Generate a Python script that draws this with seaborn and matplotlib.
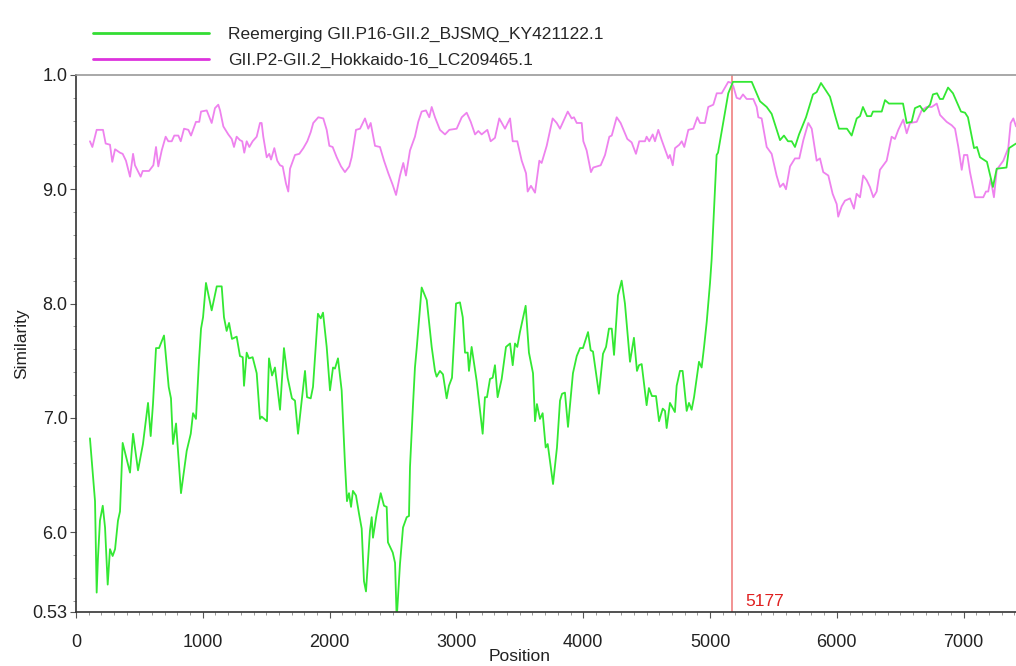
import numpy as np
import pandas as pd
import matplotlib
matplotlib.use("Agg")
import matplotlib.pyplot as plt
from matplotlib.lines import Line2D
from matplotlib.ticker import MultipleLocator
import seaborn as sns

# ---------------- data ----------------
series_names = ["Reemerging GII.P16-GII.2_BJSMQ_KY421122.1",
                "GII.P2-GII.2_Hokkaido-16_LC209465.1"]

green_pos = [110, 150, 163, 173, 189, 211, 229, 250, 268, 289, 308, 331, 347, 368, 426, 450, 489, 528, 552, 568,
             589, 607, 631, 655, 694, 731, 749, 765, 789, 828, 873, 905, 923, 946, 970, 986, 1002, 1025, 1070, 1110,
             1149, 1167, 1188, 1207, 1230, 1267, 1293, 1315, 1325, 1346, 1364, 1393, 1425, 1451, 1464, 1506, 1522,
             1546, 1569, 1609, 1640, 1669, 1703, 1727, 1751, 1806, 1822, 1851, 1869, 1908, 1930, 1948, 1977, 2003,
             2027, 2042, 2066, 2095, 2121, 2137, 2153, 2169, 2184, 2208, 2232, 2253, 2271, 2287, 2318, 2332, 2342,
             2371, 2403, 2429, 2450, 2460, 2498, 2516, 2529, 2555, 2579, 2608, 2626, 2634, 2658, 2673, 2687, 2726,
             2766, 2805, 2831, 2844, 2870, 2894, 2923, 2941, 2965, 2997, 3028, 3050, 3068, 3089, 3099, 3120, 3160,
             3207, 3225, 3241, 3265, 3286, 3304, 3325, 3357, 3391, 3423, 3444, 3462, 3480, 3501, 3546, 3572, 3604,
             3620, 3635, 3659, 3680, 3704, 3720, 3762, 3793, 3817, 3833, 3856, 3880, 3919, 3949, 3975, 3998, 4038,
             4059, 4077, 4124, 4156, 4180, 4203, 4225, 4243, 4274, 4303, 4329, 4369, 4400, 4424, 4440, 4461, 4500,
             4518, 4542, 4574, 4598, 4627, 4645, 4658, 4684, 4723, 4737, 4763, 4784, 4816, 4834, 4855, 4874, 4913,
             4934, 4953, 4974, 5000, 5013, 5052, 5063, 5144, 5181, 5329, 5394, 5447, 5486, 5552, 5583, 5615, 5644,
             5670, 5702, 5757, 5812, 5841, 5875, 5899, 5946, 5993, 6017, 6080, 6117, 6157, 6183, 6206, 6238, 6270,
             6285, 6354, 6380, 6411, 6522, 6551, 6590, 6616, 6656, 6687, 6735, 6758, 6790, 6813, 6837, 6877, 6916,
             6979, 7011, 7034, 7082, 7105, 7129, 7184, 7231, 7261, 7338, 7358, 7413]
green_sim = [0.682, 0.627, 0.547, 0.577, 0.610, 0.623, 0.604, 0.554, 0.585, 0.579, 0.585, 0.610, 0.618, 0.678,
             0.652, 0.686, 0.654, 0.677, 0.699, 0.713, 0.684, 0.712, 0.761, 0.761, 0.772, 0.727, 0.717, 0.677,
             0.695, 0.634, 0.671, 0.686, 0.704, 0.699, 0.750, 0.778, 0.788, 0.818, 0.794, 0.815, 0.815, 0.788,
             0.776, 0.783, 0.769, 0.771, 0.754, 0.753, 0.728, 0.757, 0.752, 0.753, 0.739, 0.699, 0.701, 0.697,
             0.752, 0.737, 0.744, 0.707, 0.761, 0.735, 0.717, 0.715, 0.686, 0.741, 0.718, 0.717, 0.727, 0.791,
             0.787, 0.792, 0.762, 0.724, 0.744, 0.743, 0.752, 0.724, 0.660, 0.627, 0.634, 0.622, 0.636, 0.632,
             0.616, 0.603, 0.557, 0.548, 0.601, 0.613, 0.595, 0.616, 0.634, 0.623, 0.622, 0.591, 0.582, 0.573,
             0.524, 0.572, 0.604, 0.613, 0.614, 0.657, 0.712, 0.744, 0.761, 0.814, 0.803, 0.762, 0.741, 0.736,
             0.741, 0.738, 0.717, 0.728, 0.735, 0.800, 0.801, 0.788, 0.757, 0.757, 0.741, 0.762, 0.732, 0.686,
             0.718, 0.718, 0.734, 0.735, 0.746, 0.718, 0.734, 0.762, 0.765, 0.746, 0.765, 0.762, 0.775, 0.798,
             0.757, 0.739, 0.697, 0.712, 0.699, 0.704, 0.674, 0.677, 0.642, 0.674, 0.715, 0.721, 0.722, 0.692,
             0.739, 0.754, 0.761, 0.761, 0.775, 0.759, 0.758, 0.721, 0.756, 0.762, 0.778, 0.778, 0.755, 0.807,
             0.820, 0.800, 0.749, 0.770, 0.741, 0.746, 0.747, 0.711, 0.726, 0.719, 0.719, 0.697, 0.708, 0.706,
             0.691, 0.713, 0.705, 0.728, 0.741, 0.741, 0.706, 0.713, 0.707, 0.718, 0.749, 0.744, 0.762, 0.784,
             0.818, 0.839, 0.930, 0.932, 0.984, 0.994, 0.994, 0.977, 0.972, 0.966, 0.943, 0.947, 0.942, 0.942,
             0.937, 0.948, 0.963, 0.983, 0.985, 0.993, 0.989, 0.981, 0.962, 0.953, 0.953, 0.947, 0.962, 0.964,
             0.972, 0.964, 0.964, 0.968, 0.968, 0.978, 0.975, 0.975, 0.958, 0.959, 0.971, 0.973, 0.968, 0.974,
             0.983, 0.984, 0.979, 0.979, 0.989, 0.984, 0.968, 0.967, 0.963, 0.936, 0.937, 0.928, 0.924, 0.902,
             0.918, 0.919, 0.936, 0.940]

violet_pos = [110, 129, 163, 213, 234, 268, 286, 308, 347, 368, 394, 426, 450, 465, 510, 526, 576, 610, 631, 649,
              676, 707, 728, 755, 775, 807, 826, 852, 886, 907, 946, 972, 986, 1031, 1070, 1096, 1122, 1136, 1162,
              1201, 1228, 1246, 1267, 1293, 1311, 1327, 1346, 1367, 1393, 1425, 1451, 1464, 1477, 1504, 1524, 1538,
              1564, 1587, 1609, 1630, 1656, 1674, 1688, 1727, 1761, 1793, 1824, 1851, 1871, 1911, 1950, 1977, 1998,
              2024, 2056, 2090, 2121, 2155, 2174, 2208, 2240, 2279, 2305, 2324, 2358, 2397, 2429, 2463, 2497, 2524,
              2555, 2581, 2602, 2634, 2673, 2699, 2726, 2760, 2786, 2805, 2831, 2870, 2910, 2944, 3002, 3042, 3081,
              3113, 3147, 3173, 3199, 3244, 3270, 3304, 3338, 3383, 3423, 3444, 3480, 3515, 3549, 3562, 3588, 3620,
              3654, 3672, 3712, 3759, 3791, 3817, 3878, 3909, 3927, 3949, 3988, 4001, 4027, 4061, 4079, 4138, 4172,
              4206, 4225, 4264, 4295, 4348, 4382, 4416, 4442, 4487, 4500, 4521, 4548, 4566, 4592, 4619, 4645, 4671,
              4684, 4706, 4724, 4758, 4777, 4797, 4829, 4868, 4900, 4921, 4960, 4986, 5026, 5053, 5092, 5144, 5171,
              5184, 5210, 5236, 5260, 5289, 5341, 5368, 5381, 5407, 5447, 5486, 5525, 5552, 5578, 5599, 5631, 5670,
              5704, 5736, 5775, 5802, 5841, 5867, 5893, 5933, 5967, 5999, 6011, 6038, 6064, 6104, 6135, 6156, 6183,
              6208, 6235, 6261, 6288, 6314, 6340, 6393, 6432, 6458, 6485, 6524, 6551, 6577, 6630, 6669, 6708, 6748,
              6788, 6814, 6866, 6906, 6932, 6958, 6985, 7003, 7029, 7050, 7090, 7155, 7176, 7194, 7213, 7239, 7261,
              7313, 7352, 7371, 7392, 7413]
violet_sim = [0.942, 0.937, 0.952, 0.952, 0.940, 0.939, 0.924, 0.935, 0.932, 0.931, 0.925, 0.911, 0.931, 0.921,
              0.911, 0.916, 0.916, 0.921, 0.937, 0.920, 0.934, 0.946, 0.942, 0.942, 0.947, 0.947, 0.942, 0.953,
              0.952, 0.947, 0.959, 0.959, 0.968, 0.969, 0.958, 0.971, 0.974, 0.969, 0.955, 0.948, 0.944, 0.937,
              0.946, 0.943, 0.942, 0.932, 0.942, 0.937, 0.942, 0.946, 0.958, 0.958, 0.946, 0.928, 0.931, 0.926,
              0.936, 0.925, 0.921, 0.920, 0.905, 0.898, 0.918, 0.930, 0.931, 0.936, 0.942, 0.950, 0.958, 0.963,
              0.962, 0.952, 0.938, 0.937, 0.928, 0.920, 0.915, 0.920, 0.928, 0.952, 0.953, 0.962, 0.953, 0.958,
              0.938, 0.937, 0.925, 0.914, 0.904, 0.895, 0.912, 0.923, 0.912, 0.934, 0.946, 0.959, 0.968, 0.969,
              0.963, 0.972, 0.963, 0.952, 0.948, 0.952, 0.953, 0.963, 0.967, 0.959, 0.948, 0.951, 0.948, 0.952,
              0.942, 0.945, 0.962, 0.953, 0.962, 0.942, 0.942, 0.925, 0.914, 0.898, 0.903, 0.897, 0.925, 0.923,
              0.938, 0.962, 0.958, 0.953, 0.968, 0.962, 0.963, 0.958, 0.958, 0.942, 0.934, 0.915, 0.919, 0.921,
              0.930, 0.946, 0.947, 0.963, 0.958, 0.944, 0.941, 0.931, 0.942, 0.942, 0.946, 0.942, 0.948, 0.942,
              0.952, 0.943, 0.935, 0.927, 0.930, 0.921, 0.936, 0.939, 0.942, 0.937, 0.952, 0.953, 0.963, 0.958,
              0.958, 0.972, 0.974, 0.984, 0.984, 0.994, 0.993, 0.990, 0.980, 0.979, 0.983, 0.979, 0.979, 0.972,
              0.963, 0.962, 0.937, 0.931, 0.912, 0.902, 0.905, 0.900, 0.920, 0.927, 0.927, 0.943, 0.958, 0.953,
              0.925, 0.927, 0.915, 0.912, 0.896, 0.887, 0.876, 0.885, 0.890, 0.892, 0.883, 0.896, 0.893, 0.912,
              0.908, 0.902, 0.893, 0.898, 0.917, 0.925, 0.946, 0.944, 0.952, 0.961, 0.949, 0.958, 0.959, 0.969,
              0.972, 0.972, 0.975, 0.965, 0.959, 0.956, 0.953, 0.937, 0.917, 0.930, 0.930, 0.915, 0.893, 0.893,
              0.898, 0.898, 0.909, 0.893, 0.917, 0.925, 0.936, 0.958, 0.962, 0.955]

breakpoint_pos = 5177
y_tick_values = [0.53, 0.6, 0.7, 0.8, 0.9, 1.0]
y_tick_labels = ["0.53", "6.0", "7.0", "8.0", "9.0", "1.0"]
x_tick_values = [0, 1000, 2000, 3000, 4000, 5000, 6000, 7000]

# ---------------- styling ----------------
sns.set_theme(style="white")
plt.rcParams["font.family"] = ["Liberation Sans", "DejaVu Sans"]

line_colors = {series_names[0]: "#33e833", series_names[1]: "#ee82ee"}
legend_colors = ["#33dd33", "#dd33dd"]

df = pd.concat([
    pd.DataFrame({"Position": green_pos, "Similarity": green_sim, "Series": series_names[0]}),
    pd.DataFrame({"Position": violet_pos, "Similarity": violet_sim, "Series": series_names[1]}),
], ignore_index=True)

fig = plt.figure(figsize=(10.16, 6.66), dpi=100)
ax = fig.add_axes([76 / 1016, 1 - 612 / 666, 1 - 76 / 1016, (612 - 75) / 666])

# draw violet first so green is on top
sns.lineplot(data=df, x="Position", y="Similarity", hue="Series",
             hue_order=[series_names[1], series_names[0]],
             palette=line_colors, estimator=None, sort=False, legend=False,
             linewidth=1.3, ax=ax)

ax.axvline(breakpoint_pos, color="#f08080", linewidth=1.2, zorder=1)
ax.text(breakpoint_pos + 100, 0.539, str(breakpoint_pos), color="#e02020",
        fontsize=12.5, ha="left", va="center")

ax.set_xlim(0, 7413)
ax.set_ylim(0.53, 1.0)
ax.set_xticks(x_tick_values)
ax.set_xticklabels([str(v) for v in x_tick_values], fontsize=13)
ax.xaxis.set_minor_locator(MultipleLocator(100))
ax.set_yticks(y_tick_values)
ax.set_yticklabels(y_tick_labels, fontsize=13)
ax.yaxis.set_minor_locator(MultipleLocator(0.02))
ax.tick_params(axis="x", which="major", direction="out", length=4, width=0.8,
               color="#555555", labelcolor="#222222", pad=12, bottom=True)
ax.tick_params(axis="y", which="major", direction="out", length=4, width=0.8,
               color="#555555", labelcolor="#222222", pad=2, left=True)
ax.tick_params(axis="both", which="minor", direction="out", length=2, width=0.6,
               color="#888888", bottom=True, left=True)

ax.set_xlabel("Position", fontsize=12.5, color="#222222")
ax.xaxis.set_label_coords(0.472, -0.069)
ax.set_ylabel("Similarity", fontsize=12.5, color="#222222")
ax.yaxis.set_label_coords(-0.05, 0.5)

for side in ["left", "bottom"]:
    ax.spines[side].set_color("#333333")
    ax.spines[side].set_linewidth(1.2)
ax.spines["top"].set_color("#999999")
ax.spines["top"].set_linewidth(1.2)
ax.spines["right"].set_visible(False)

handles = [Line2D([], [], color=legend_colors[0], linewidth=2),
           Line2D([], [], color=legend_colors[1], linewidth=2)]
fig.legend(handles, series_names, loc="lower left",
           bbox_to_anchor=(93 / 1016, 1 - 68 / 666), frameon=False,
           fontsize=12.5, handlelength=6.7, handletextpad=1.1,
           labelspacing=0.62, borderpad=0, borderaxespad=0)

fig.savefig("out.png", dpi=100)
